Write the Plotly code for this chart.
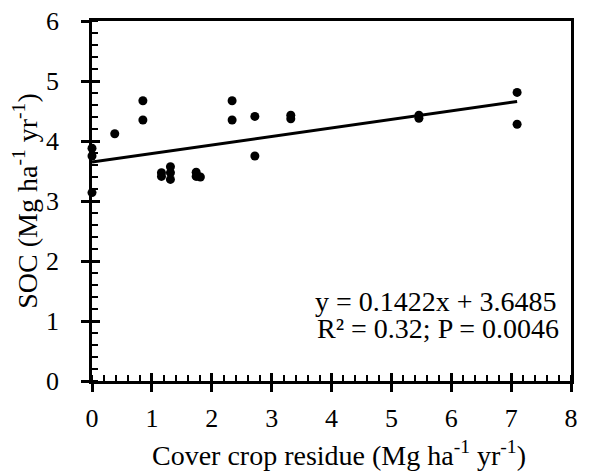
import plotly.graph_objects as go

residue = [0, 0, 0, 0.38, 0.85, 0.85, 1.16, 1.16, 1.31, 1.31, 1.31, 1.74, 1.74, 1.81,
           2.34, 2.34, 2.72, 2.72, 3.32, 3.32, 5.46, 5.46, 7.10, 7.10]
soc = [3.88, 3.75, 3.14, 4.12, 4.67, 4.35, 3.47, 3.41, 3.57, 3.47, 3.36, 3.48, 3.41, 3.40,
       4.67, 4.35, 4.41, 3.75, 4.43, 4.37, 4.43, 4.38, 4.81, 4.28]
trend_x = [0, 7.10]
trend_y = [3.6485, 4.658]
x_ticks = [0, 1, 2, 3, 4, 5, 6, 7, 8]
y_ticks = [0, 1, 2, 3, 4, 5, 6]
eq_text = "y = 0.1422x + 3.6485"
r2_text = "R² = 0.32; P = 0.0046"
x_title = "Cover crop residue (Mg ha<sup>-1</sup> yr<sup>-1</sup>)"
y_title = "SOC (Mg ha<sup>-1</sup> yr<sup>-1</sup>)"

FONT = "Liberation Serif, Times New Roman, serif"

fig = go.Figure()
fig.add_trace(go.Scatter(x=residue, y=soc, mode="markers",
                         marker=dict(color="black", size=9), cliponaxis=False,
                         showlegend=False))
fig.add_trace(go.Scatter(x=trend_x, y=trend_y, mode="lines", xaxis="x2", yaxis="y2",
                         line=dict(color="black", width=3), showlegend=False))

axis_common = dict(showgrid=False, zeroline=False, linecolor="black", linewidth=2.5,
                   tickcolor="black", tickwidth=2.5, automargin=False,
                   ticklabeloverflow="allow",
                   tickfont=dict(family=FONT, size=26, color="black"))

fig.update_layout(
    width=593, height=471,
    margin=dict(l=83.5, r=29.5, t=13, b=98),
    paper_bgcolor="white", plot_bgcolor="white",
    font=dict(family=FONT, color="black"),
    xaxis=dict(range=[0, 8], tickvals=x_ticks, ticks="outside", ticklen=8,
               mirror=True, showline=True, ticklabelstandoff=4,
               minor=dict(ticks="inside", ticklen=6, dtick=0.2, tickcolor="black", tickwidth=2),
               **axis_common),
    yaxis=dict(range=[0, 6], tickvals=y_ticks, ticks="outside", ticklen=8,
               mirror=True, showline=True, ticklabelstandoff=17,
               minor=dict(ticks="inside", ticklen=6, dtick=0.2, tickcolor="black", tickwidth=2),
               title=dict(text=y_title,
                          font=dict(family=FONT, size=28, color="black"), standoff=4),
               **axis_common),
    xaxis2=dict(range=[0, 8], overlaying="x", side="bottom", tickvals=x_ticks,
                ticks="inside", ticklen=8, tickcolor="black", tickwidth=2.5,
                showticklabels=False, showline=False, showgrid=False, zeroline=False),
    yaxis2=dict(range=[0, 6], overlaying="y", side="left", tickvals=y_ticks,
                ticks="inside", ticklen=8, tickcolor="black", tickwidth=2.5,
                showticklabels=False, showline=False, showgrid=False, zeroline=False),
    annotations=[
        dict(x=7.80, y=1.32, xref="x", yref="y", text=eq_text, showarrow=False,
             xanchor="right", yanchor="middle", font=dict(family=FONT, size=28, color="black")),
        dict(x=7.83, y=0.88, xref="x", yref="y", text=r2_text, showarrow=False,
             xanchor="right", yanchor="middle", font=dict(family=FONT, size=28, color="black")),
        dict(x=4.12, y=-0.20, xref="x", yref="paper", text=x_title, showarrow=False,
             xanchor="center", yanchor="middle", font=dict(family=FONT, size=28, color="black")),
    ],
)

fig.write_html("out.html")
